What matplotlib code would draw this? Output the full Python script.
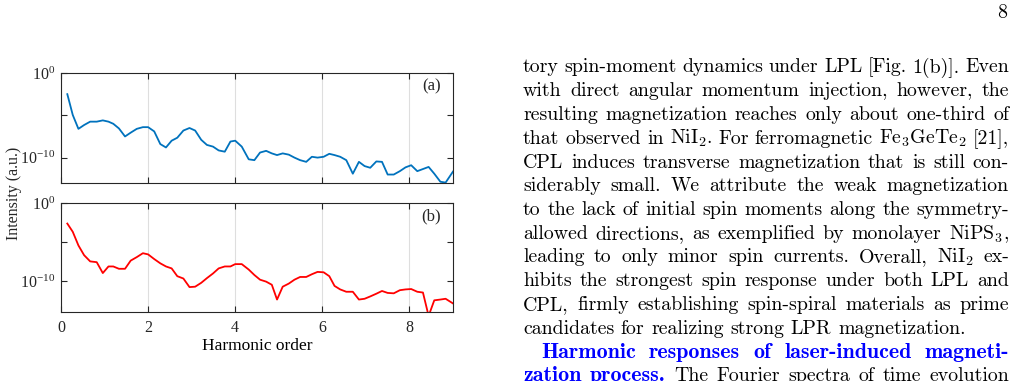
import numpy as np
import matplotlib.pyplot as plt

# harmonic order grid of the spectra
harmonic = [0.145, 0.27, 0.40, 0.53, 0.67, 0.82, 0.96, 1.09, 1.20, 1.33,
            1.47, 1.60, 1.74, 1.88, 2.00, 2.14, 2.28, 2.41, 2.54, 2.67,
            2.81, 2.95, 3.08, 3.22, 3.35, 3.49, 3.62, 3.76, 3.89, 4.00,
            4.15, 4.31, 4.44, 4.57, 4.71, 4.84, 4.96, 5.09, 5.23, 5.36,
            5.49, 5.63, 5.76, 5.89, 6.03, 6.16, 6.28, 6.41, 6.55, 6.70,
            6.84, 6.97, 7.10, 7.24, 7.37, 7.50, 7.64, 7.78, 7.91, 8.04,
            8.18, 8.31, 8.44, 8.57, 8.71, 8.83, 9.00]

# log10 of intensity, panel (a)
exp_a = [-2.5, -4.96, -6.6, -6.15, -5.75, -5.75, -5.6, -5.75, -6.0, -6.55,
         -7.5, -7.05, -6.6, -6.4, -6.4, -6.9, -8.4, -8.8, -8.0, -7.65,
         -6.8, -6.5, -6.8, -7.9, -8.5, -8.7, -9.15, -9.3, -8.1, -8.0,
         -8.7, -10.2, -10.3, -9.4, -9.2, -9.5, -9.7, -9.5, -9.65, -10.0,
         -10.3, -10.5, -9.9, -10.0, -9.9, -9.55, -9.7, -9.9, -10.3, -11.9,
         -10.5, -11.0, -11.2, -10.45, -10.5, -12.0, -12.0, -11.6, -11.15, -10.9,
         -11.6, -11.35, -11.1, -11.9, -12.85, -12.95, -11.65]

# log10 of intensity, panel (b)
exp_b = [-2.64, -3.7, -5.45, -6.7, -7.5, -7.6, -9.0, -8.15, -8.15, -8.45,
         -8.45, -7.4, -6.95, -6.45, -6.6, -7.2, -7.75, -8.15, -8.4, -9.4,
         -9.7, -10.8, -10.75, -10.25, -9.65, -9.05, -8.4, -8.15, -8.15, -7.85,
         -7.85, -8.55, -9.25, -9.85, -10.1, -10.5, -12.4, -10.75, -10.35, -9.85,
         -9.5, -9.5, -9.15, -8.85, -8.9, -9.4, -10.65, -11.1, -11.4, -11.4,
         -12.4, -12.3, -12.0, -11.65, -11.3, -11.55, -11.6, -11.2, -11.1, -11.05,
         -11.4, -11.5, -14.5, -12.5, -12.4, -12.3, -12.9]

panel_labels = ['(a)', '(b)']
xticks = [0, 2, 4, 6, 8]

body = [
    "tory spin-moment dynamics under LPL [Fig. 1(b)]. Even",
    "with direct angular momentum injection, however, the",
    "resulting magnetization reaches only about one-third of",
    r"that observed in NiI$_\mathrm{2}$. For ferromagnetic Fe$_\mathrm{3}$GeTe$_\mathrm{2}$ [21],",
    "CPL induces transverse magnetization that is still con-",
    "siderably small.  We attribute the weak magnetization",
    "to the lack of initial spin moments along the symmetry-",
    r"allowed directions, as exemplified by monolayer NiPS$_\mathrm{3}$,",
    r"leading to only minor spin currents.  Overall, NiI$_\mathrm{2}$ ex-",
    "hibits the strongest spin response under both LPL and",
    "CPL, firmly establishing spin-spiral materials as prime",
    "candidates for realizing strong LPR magnetization.",
]
heading = ["Harmonic responses of laser-induced magneti-", "zation process."]
after_heading = "The Fourier spectra of time evolution"

plt.rcParams['font.family'] = 'Liberation Serif'
plt.rcParams['mathtext.fontset'] = 'stix'

fig = plt.figure(figsize=(10.18, 3.81), dpi=100)

W, H = 1018, 381
boxes = [(61, 73, 453, 183), (61, 203, 453, 312)]
ylims = [(1e-13, 1), (1e-14, 1)]
colors = ['#0072BD', '#FF0000']
series = [exp_a, exp_b]

for i, (l, t, r, b) in enumerate(boxes):
    ax = fig.add_axes([l / W, 1 - b / H, (r - l) / W, (b - t) / H])
    ax.plot(harmonic, 10.0 ** np.array(series[i]), color=colors[i], lw=1.3)
    ax.set_yscale('log')
    ax.set_xlim(0, 9)
    ax.set_ylim(*ylims[i])
    ax.set_yticks([1e-10, 1e-5, 1e0])
    ax.set_yticklabels([r'$\mathdefault{10^{-10}}$', '', r'$\mathdefault{10^{0}}$'])
    ax.minorticks_off()
    ax.set_xticks(xticks)
    if i == 0:
        ax.set_xticklabels([])
    else:
        ax.set_xlabel('Harmonic order', fontsize=12.5, labelpad=1)
    ax.grid(axis='x', color='#dedede', lw=0.8)
    ax.tick_params(direction='in', top=True, right=True, length=4, width=0.8,
                   labelsize=11.5, colors='#262626')
    ax.tick_params(axis='x', pad=6)
    ax.tick_params(axis='y', pad=4)
    for s in ax.spines.values():
        s.set_color('#262626')
        s.set_linewidth(0.8)
    ax.text(0.97, 0.88, panel_labels[i], transform=ax.transAxes, ha='right',
            va='center', fontsize=12, color='#262626')

fig.text(14 / W, 1 - 193 / H, 'Intensity (a.u.)', rotation=90, ha='center',
         va='center', fontsize=11.5, color='#262626')

# text column of the page, in pixel coordinates
pg = fig.add_axes([0, 0, 1, 1], zorder=-1)
pg.set_xlim(0, W)
pg.set_ylim(H, 0)
pg.axis('off')
renderer = fig.canvas.get_renderer()

left, right = 523, 1009
base0, step = 72.5, 23.75
fs = 14.3


def put_line(words, y, x0, justify):
    arts = []
    for w, bold in words:
        arts.append(pg.text(0, y, w, fontsize=15.8 if bold else fs,
                            va='baseline',
                            family='cmb10' if bold else 'cmr10',
                            math_fontfamily='cm',
                            color='#0000FF' if bold else 'black'))
    widths = [a.get_window_extent(renderer).width for a in arts]
    if justify and len(arts) > 1:
        gap = (right - x0 - sum(widths)) / (len(arts) - 1)
    else:
        gap = fs * 0.46
    x = x0
    for a, wd in zip(arts, widths):
        a.set_x(x)
        x += wd + gap


for k, line in enumerate(body):
    put_line([(w, False) for w in line.split()], base0 + k * step, left,
             k < len(body) - 1)

put_line([(w, True) for w in heading[0].split()], base0 + 12 * step, 541, True)
put_line([(w, True) for w in heading[1].split()] +
         [(w, False) for w in after_heading.split()],
         base0 + 13 * step, left, True)

pg.text(1007, 18, '8', fontsize=fs, family='cmr10', ha='right', va='baseline')

fig.savefig('out.png', dpi=100)
